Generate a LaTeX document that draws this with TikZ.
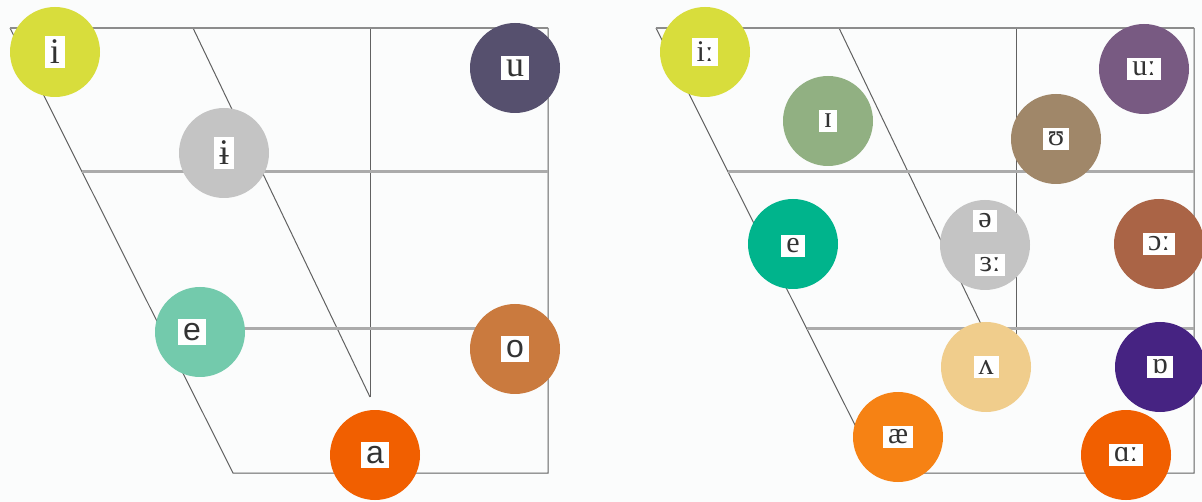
\documentclass[tikz,border=0pt]{standalone}
\usepackage{fontspec}
\setmainfont{Liberation Serif}
\newfontfamily\ipaserif{Liberation Serif}
\newfontfamily\ipasans{Liberation Sans}
\definecolor{bgc}{RGB}{251,252,252}
\definecolor{cyel}{RGB}{216,221,60}
\definecolor{cslate}{RGB}{86,80,110}
\definecolor{cgrey}{RGB}{196,196,196}
\definecolor{cmint}{RGB}{115,202,172}
\definecolor{cocre}{RGB}{202,122,62}
\definecolor{cred}{RGB}{241,95,0}
\definecolor{csage}{RGB}{145,176,130}
\definecolor{cplum}{RGB}{120,90,130}
\definecolor{ctaupe}{RGB}{160,135,105}
\definecolor{cteal}{RGB}{0,180,140}
\definecolor{cbrown}{RGB}{170,100,70}
\definecolor{ctan}{RGB}{240,205,140}
\definecolor{cindigo}{RGB}{70,35,130}
\definecolor{corange}{RGB}{246,130,20}
\tikzset{
  thinline/.style={draw=black!62, line width=1pt},
  topline/.style={draw=black!45, line width=2pt},
  midline/.style={draw=black!33, line width=3pt},
  vowel/.style={circle, minimum size=90pt, inner sep=0pt, draw=none},
  lab/.style={fill=white, inner xsep=5pt, inner ysep=4pt, text=black!80},
  bigserif/.style={lab, font=\ipaserif\fontsize{36}{38}\selectfont},
  bigsans/.style={lab, font=\ipasans\fontsize{32}{34}\selectfont},
  smserif/.style={lab, font=\ipaserif\fontsize{30}{32}\selectfont},
}
\begin{document}
\begin{tikzpicture}[x=1pt,y=-1pt]
\fill[bgc] (0,0) rectangle (1202,502);
\useasboundingbox (0,0) rectangle (1202,502);
% grids
\foreach \p/\dx in {L/0,R/646}{
  \coordinate (\p-tl) at (10+\dx,28);
  \coordinate (\p-tr) at (548+\dx,28);
  \coordinate (\p-br) at (548+\dx,473);
  \coordinate (\p-bl) at (233+\dx,473);
  \coordinate (\p-m1l) at (82+\dx,172);
  \coordinate (\p-m1r) at (548+\dx,172);
  \coordinate (\p-m2l) at (161+\dx,329);
  \coordinate (\p-m2r) at (548+\dx,329);
  \coordinate (\p-vt) at (370+\dx,28);
  \coordinate (\p-vb) at (370+\dx,397);
  \coordinate (\p-dt) at (193+\dx,28);
  \draw[thinline] (\p-tl) -- (\p-bl) -- (\p-br) -- (\p-tr);
  \draw[thinline] (\p-vt) -- (\p-vb);
  \draw[thinline] (\p-dt) -- (\p-vb);
  \draw[topline] (\p-tl) -- (\p-tr);
  \draw[midline] (\p-m1l) -- (\p-m1r);
  \draw[midline] (\p-m2l) -- (\p-m2r);
}
% left chart vowels
\node[vowel, fill=cyel] (Li) at (55,52) {};
\node[vowel, fill=cgrey] (Lbi) at (224,153) {};
\node[vowel, fill=cslate] (Lu) at (515,68) {};
\node[vowel, fill=cmint] (Le) at (200,332) {};
\node[vowel, fill=cocre] (Lo) at (515,349) {};
\node[vowel, fill=cred] (La) at (375,455) {};
\node[bigserif] (tLi) at (Li) {i};
\node[bigserif] (tLbi) at (Lbi) {ɨ};
\node[bigserif] (tLu) at (Lu) {u};
\node[bigsans] (tLe) at ([xshift=-8pt]Le.center) {e};
\node[bigsans] (tLo) at (Lo) {o};
\node[bigsans] (tLa) at (La) {a};
% right chart vowels
\node[vowel, fill=cyel] (Ri) at (705,52) {};
\node[vowel, fill=csage] (RI) at (828,121) {};
\node[vowel, fill=cplum] (Ru) at (1144,69) {};
\node[vowel, fill=ctaupe] (RU) at (1056,139) {};
\node[vowel, fill=cteal] (Re) at (793,244) {};
\node[vowel, fill=cgrey] (Rschwa) at (985,245) {};
\node[vowel, fill=cbrown] (Ro) at (1159,244) {};
\node[vowel, fill=ctan] (Rv) at (986,367) {};
\node[vowel, fill=cindigo] (Rq) at (1160,367) {};
\node[vowel, fill=corange] (Rae) at (898,437) {};
\node[vowel, fill=cred] (Ra) at (1126,455) {};
\node[smserif] (tRi) at (Ri) {iː};
\node[smserif] (tRI) at (RI) {ɪ};
\node[smserif] (tRu) at (Ru) {uː};
\node[smserif] (tRU) at (RU) {ʊ};
\node[smserif] (tRe) at ([yshift=-2pt]Re.center) {e};
\node[smserif] (tRschwa) at ([yshift=24pt]Rschwa.center) {ə};
\node[smserif] (tRer) at ([xshift=5pt,yshift=-20pt]Rschwa.center) {ɜː};
\node[smserif] (tRo) at (Ro) {ɔː};
\node[smserif] (tRv) at (Rv) {ʌ};
\node[smserif] (tRq) at (Rq) {ɒ};
\node[smserif] (tRae) at (Rae) {æ};
\node[smserif] (tRa) at (Ra) {ɑː};
\end{tikzpicture}
\end{document}
